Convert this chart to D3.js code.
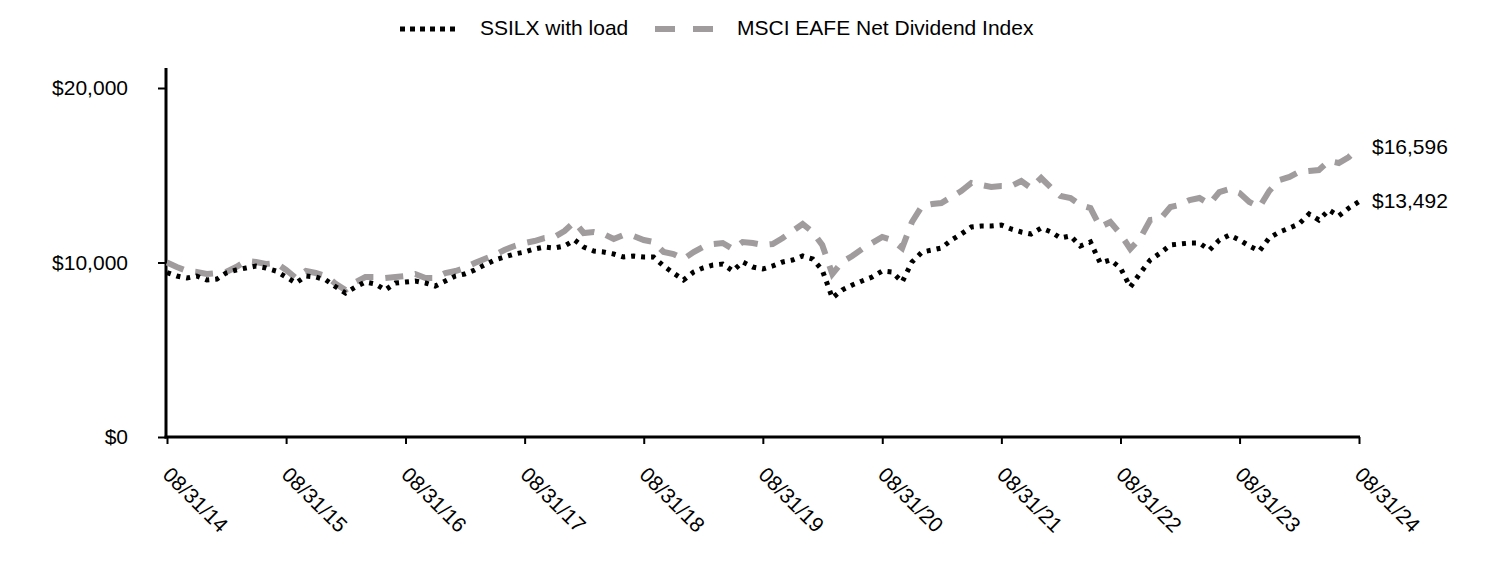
<!DOCTYPE html>
<html>
<head>
<meta charset="utf-8">
<script src="https://cdn.jsdelivr.net/npm/d3@7"></script>
<style>
  html, body { margin: 0; padding: 0; background: #fff; }
  svg { display: block; font-family: "Liberation Sans", Arial, sans-serif; }
</style>
</head>
<body>
<svg id="chart" width="1488" height="588"></svg>
<script>
// ---- Data (monthly, 08/2014 .. 08/2024) ----
const seriesNames = ["SSILX with load", "MSCI EAFE Net Dividend Index"];
const ssilx = [
  9425, 9226, 9112, 9226, 8997, 9054, 9398, 9570, 9685, 9800, 9685, 9513,
  9169, 8825, 9226, 9169, 8997, 8596, 8252, 8596, 8883, 8768, 8424, 8825,
  8883, 8940, 8825, 8653, 8940, 9226, 9341, 9570, 9857, 10143, 10315, 10487,
  10602, 10774, 10888, 10831, 10946, 11289, 10888, 10659, 10602, 10487, 10315, 10372,
  10315, 10315, 9800, 9398, 8997, 9456, 9685, 9857, 9914, 9513, 10029, 9742,
  9628, 9799, 10029, 10143, 10372, 10201, 9570, 7966, 8424, 8711, 8940, 9169,
  9513, 9456, 8883, 10029, 10602, 10716, 10831, 11289, 11633, 12034, 12092, 12092,
  12149, 11920, 11748, 11633, 11977, 11748, 11404, 11519, 10946, 11175, 9971, 10143,
  9685, 8596, 9398, 10143, 10544, 11003, 11060, 11117, 11117, 10716, 11289, 11576,
  11289, 10946, 10659, 11404, 11748, 11977, 12206, 12779, 12436, 13009, 12665, 13123,
  13492
];
const msci = [
  10000, 9742, 9513, 9456, 9341, 9398, 9456, 9742, 10086, 10029, 9914, 9971,
  9570, 9112, 9513, 9398, 9226, 8768, 8424, 8883, 9169, 9169, 9112, 9169,
  9226, 9341, 9112, 9112, 9398, 9513, 9685, 9971, 10201, 10430, 10716, 10946,
  11117, 11232, 11404, 11461, 11805, 12321, 11691, 11748, 11633, 11347, 11576, 11519,
  11289, 11175, 10602, 10487, 10201, 10602, 10888, 11060, 11117, 10774, 11175, 11117,
  11003, 11060, 11404, 11805, 12206, 11748, 11003, 9341, 10029, 10372, 10774, 11117,
  11461, 11289, 10831, 12321, 13238, 13352, 13410, 13754, 14097, 14556, 14441, 14327,
  14384, 14384, 14670, 14269, 14842, 14269, 13811, 13696, 13295, 13123, 12034, 12321,
  11633, 10774, 11404, 12436, 12493, 13181, 13295, 13582, 13696, 13352, 14040, 14212,
  13983, 13467, 13181, 14097, 14728, 14900, 15186, 15244, 15301, 15817, 15702, 16046,
  16596
];
const yTicks = [0, 10000, 20000];
const tickLabels = ["08/31/14","08/31/15","08/31/16","08/31/17","08/31/18","08/31/19",
                    "08/31/20","08/31/21","08/31/22","08/31/23","08/31/24"];
const endLabels = ["$13,492", "$16,596"];

// month-end dates for each observation
const dates = ssilx.map((_, i) => new Date(2014, 7 + i + 1, 0));
const tickDates = tickLabels.map((_, i) => new Date(2014 + i, 7, 31));

const svg = d3.select("#chart");
const FONT = 21;
const black = "#000000";
const gray = "#a09c9d";

const x = d3.scaleTime()
  .domain([new Date(2014, 7, 31), new Date(2024, 7, 31)])
  .range([167, 1359]);
const y = d3.scaleLinear().domain([0, 20000]).range([437, 88]);

// ---- Y axis ----
const yAxis = svg.append("g").attr("transform", "translate(166,0)")
  .call(d3.axisLeft(y).tickValues(yTicks).tickSize(8).tickPadding(30)
        .tickFormat(d => "$" + d3.format(",")(d)));
yAxis.select(".domain").remove();
yAxis.selectAll(".tick line").attr("stroke", black).attr("stroke-width", 2);
yAxis.selectAll(".tick text").attr("font-size", FONT).attr("fill", black)
  .attr("font-family", "Liberation Sans, Arial, sans-serif");
svg.append("line")
  .attr("x1", 166).attr("x2", 166).attr("y1", y(0) + 1.5).attr("y2", 68)
  .attr("stroke", black).attr("stroke-width", 3);

// ---- X axis ----
const xAxis = svg.append("g").attr("transform", `translate(0,${y(0)})`)
  .call(d3.axisBottom(x).tickValues(tickDates).tickSize(7)
        .tickFormat((d, i) => tickLabels[i]));
xAxis.select(".domain").attr("d", `M164.5,0H1360`).attr("stroke", black).attr("stroke-width", 3);
xAxis.selectAll(".tick line").attr("stroke", black).attr("stroke-width", 2);
xAxis.selectAll(".tick text")
  .attr("font-size", FONT).attr("fill", black)
  .attr("font-family", "Liberation Sans, Arial, sans-serif")
  .attr("text-anchor", "start")
  .attr("dy", null).attr("y", null)
  .attr("transform", "translate(-6,39) rotate(45)");

// ---- Lines ----
const line = d3.line().x((d, i) => x(dates[i])).y(d => y(d)).curve(d3.curveLinear);

svg.append("path").datum(msci)
  .attr("d", line).attr("fill", "none")
  .attr("stroke", gray).attr("stroke-width", 6)
  .attr("stroke-dasharray", "18,12");

svg.append("path").datum(ssilx)
  .attr("d", line).attr("fill", "none")
  .attr("stroke", black).attr("stroke-width", 5)
  .attr("stroke-dasharray", "4,6");

// ---- End labels ----
const lastIdx = ssilx.length - 1;
[[ssilx, endLabels[0]], [msci, endLabels[1]]].forEach(([s, lab]) => {
  svg.append("text")
    .attr("x", x(dates[lastIdx]) + 13)
    .attr("y", y(s[lastIdx]) + 1)
    .attr("dominant-baseline", "middle")
    .attr("font-size", FONT).attr("fill", black)
    .text(lab);
});

// ---- Legend ----
const lg = svg.append("g");
lg.append("line").attr("x1", 400).attr("x2", 456).attr("y1", 29).attr("y2", 29)
  .attr("stroke", black).attr("stroke-width", 5).attr("stroke-dasharray", "5,5");
lg.append("text").attr("x", 480).attr("y", 29).attr("dominant-baseline", "middle")
  .attr("font-size", FONT).attr("fill", black).text(seriesNames[0]);
lg.append("line").attr("x1", 655).attr("x2", 713).attr("y1", 29).attr("y2", 29)
  .attr("stroke", gray).attr("stroke-width", 6).attr("stroke-dasharray", "20,18");
lg.append("text").attr("x", 737).attr("y", 29).attr("dominant-baseline", "middle")
  .attr("font-size", FONT).attr("fill", black).text(seriesNames[1]);
</script>
</body>
</html>
